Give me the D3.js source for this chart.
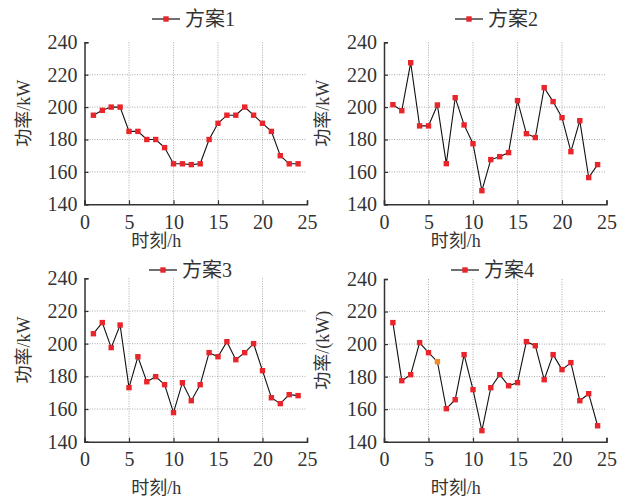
<!DOCTYPE html>
<html>
<head>
<meta charset="utf-8">
<script src="https://cdn.jsdelivr.net/npm/d3@7"></script>
<style>
  body { margin: 0; background: #fff; }
  svg text { fill: #333; }
</style>
</head>
<body>
<div id="chart"></div>
<script>
const hours = d3.range(1, 25);
const plan1 = [195, 198, 200, 200, 185, 185, 180, 180, 175, 165, 165, 164.5, 165, 180, 190, 195, 195, 200, 195, 190, 185, 170, 165, 165];
const plan2 = [201.5, 197.8, 227.4, 188.4, 188.4, 201.3, 165.1, 205.8, 189, 177.4, 148.4, 167.6, 169.4, 171.9, 204, 183.6, 181.2, 212, 203.4, 193.5, 172.5, 191.6, 156.5, 164.5];
const plan3 = [206.1, 212.9, 197.6, 211.4, 173.1, 192, 176.7, 179.8, 174.9, 157.8, 176.1, 165.1, 174.9, 194.5, 192, 201.2, 190.2, 194.5, 200, 183.5, 166.9, 163.3, 168.8, 168.2];
const plan4 = [213.2, 177.5, 181.2, 200.9, 194.7, 189.2, 160.3, 165.8, 193.5, 172, 146.8, 173.2, 181.2, 174.4, 176.3, 201.5, 199, 178.1, 193.5, 184.3, 188.6, 165.2, 169.5, 149.8];
const names = ["方案1", "方案2", "方案3", "方案4"];
const yLabels = ["功率/kW", "功率/kW", "功率/kW", "功率/(kW)"];
const xLabel = "时刻/h";
const xTicks = [0, 5, 10, 15, 20, 25];
const yTicks = [140, 160, 180, 200, 220, 240];

const width = 635, height = 499;
const svg = d3.select("#chart").append("svg")
  .attr("width", width)
  .attr("height", height);

const serif = "'Liberation Serif', 'DejaVu Serif', serif";
const mixed = "'Liberation Serif', 'Noto Sans CJK SC', serif";

// plot boxes: left, right, top, bottom
const panels = [
  { data: plan1, x0: 84.5, x1: 307, y0: 42.3, y1: 204.3, legY: 19, legX: 152, xt: 43 },
  { data: plan2, x0: 384, x1: 606.5, y0: 42.3, y1: 204.3, legY: 19, legX: 455, xt: 43 },
  { data: plan3, x0: 84.5, x1: 307, y0: 278.3, y1: 441.7, legY: 270, legX: 149, xt: 52 },
  { data: plan4, x0: 384, x1: 606.5, y0: 279, y1: 441.7, legY: 270, legX: 451, xt: 52 }
];

panels.forEach((p, i) => {
  const x = d3.scaleLinear().domain([0, 25]).range([p.x0, p.x1]);
  const y = d3.scaleLinear().domain([140, 240]).range([p.y1, p.y0]);
  const g = svg.append("g");

  // grid
  g.selectAll(".vg").data(xTicks.slice(1, -1)).join("line")
    .attr("x1", d => x(d)).attr("x2", d => x(d))
    .attr("y1", p.y0).attr("y2", p.y1)
    .attr("stroke", "#aaa").attr("stroke-width", 1).attr("stroke-dasharray", "1,1.5");
  g.selectAll(".hg").data(yTicks.slice(1, -1)).join("line")
    .attr("x1", p.x0).attr("x2", p.x1)
    .attr("y1", d => y(d)).attr("y2", d => y(d))
    .attr("stroke", "#aaa").attr("stroke-width", 1).attr("stroke-dasharray", "1,1.5");

  // axes
  const xAxis = g.append("g").attr("transform", `translate(0,${p.y1})`)
    .call(d3.axisBottom(x).tickValues(xTicks).tickSize(-4).tickPadding(10));
  const yAxis = g.append("g").attr("transform", `translate(${p.x0},0)`)
    .call(d3.axisLeft(y).tickValues(yTicks).tickSize(-4).tickPadding(7));
  [xAxis, yAxis].forEach(a => {
    a.attr("font-family", null);
    a.select(".domain").attr("stroke", "#333").attr("stroke-width", 1.5);
    a.selectAll(".tick line").attr("stroke", "#333").attr("stroke-width", 1.2);
    a.selectAll(".tick text").style("font-family", serif).style("font-size", "20px").attr("fill", "#333");
  });
  xAxis.selectAll(".tick text").attr("dy", "0.72em");

  // line + markers
  g.append("path")
    .datum(p.data)
    .attr("fill", "none")
    .attr("stroke", "#111")
    .attr("stroke-width", 1.1)
    .attr("d", d3.line().x((d, j) => x(hours[j])).y(d => y(d)));
  g.selectAll(".pt").data(p.data).join("rect")
    .attr("x", (d, j) => x(hours[j]) - 2.7)
    .attr("y", d => y(d) - 2.7)
    .attr("width", 5.4).attr("height", 5.4)
    .attr("fill", (d, j) => (i === 3 && j === 5) ? "#ef8a2a" : "#e8252a");

  // legend
  const lg = g.append("g").attr("transform", `translate(${p.legX},${p.legY})`);
  lg.append("line").attr("x1", 0).attr("x2", 28).attr("stroke", "#111").attr("stroke-width", 1.2);
  lg.append("rect").attr("x", 11.3).attr("y", -2.7).attr("width", 5.4).attr("height", 5.4).attr("fill", "#e8252a");
  lg.append("text").attr("x", 33).attr("y", 0).attr("dy", "0.35em")
    .style("font-family", mixed).style("font-size", "20px").text(names[i]);

  // axis titles
  g.append("text")
    .attr("x", (p.x0 + x(15)) / 2 + 5).attr("y", p.y1 + p.xt)
    .attr("text-anchor", "middle")
    .style("font-family", mixed).style("font-size", "18px")
    .text(xLabel);
  g.append("text")
    .attr("transform", `translate(${p.x0 - 61},${(p.y0 + p.y1) / 2 - 10}) rotate(-90)`)
    .attr("text-anchor", "middle")
    .attr("dy", "0.35em")
    .style("font-family", mixed).style("font-size", "18px")
    .text(yLabels[i]);
});
</script>
</body>
</html>
